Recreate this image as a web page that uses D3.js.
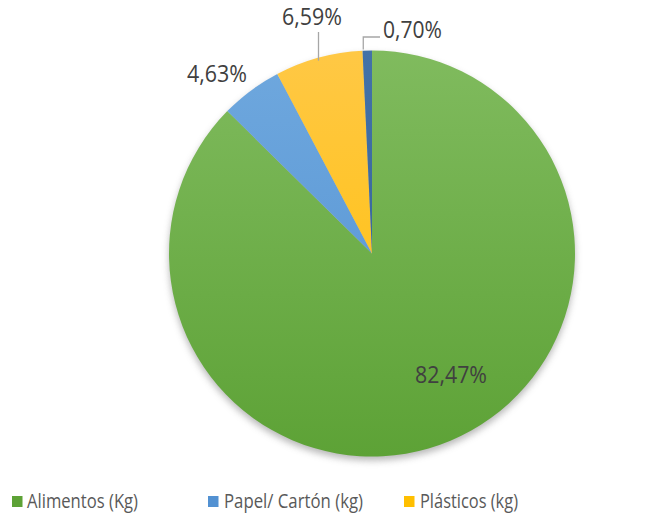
<!DOCTYPE html>
<html>
<head>
<meta charset="utf-8">
<script src="https://cdn.jsdelivr.net/npm/d3@7/dist/d3.min.js"></script>
<style>
  html, body { margin: 0; padding: 0; background: #fff; }
  svg { display: block; font-family: "Open Sans", "Liberation Sans", sans-serif; }
</style>
</head>
<body>
<svg id="chart" width="659" height="517"></svg>
<script>
// Waste composition by category
const categories = ["Alimentos (Kg)", "Papel/ Cartón (kg)", "Plásticos (kg)", "Otros (kg)"];
const values = [82.47, 4.63, 6.59, 0.70];
const valueLabels = ["82,47%", "4,63%", "6,59%", "0,70%"];
const legendCategories = ["Alimentos (Kg)", "Papel/ Cartón (kg)", "Plásticos (kg)"];

const colorsTop = ["#80bb5e", "#6fa8de", "#ffc845", "#4472a8"];
const colorsBottom = ["#5da236", "#5291d2", "#ffbf00", "#2f5f93"];

const cx = 372, cy = 253.5, R = 203;

const svg = d3.select("#chart");
const defs = svg.append("defs");

// soft drop shadow under the pie
const f = defs.append("filter").attr("id", "shadow")
  .attr("x", "-20%").attr("y", "-20%").attr("width", "140%").attr("height", "140%");
f.append("feGaussianBlur").attr("stdDeviation", 3.5);

categories.forEach((c, i) => {
  const g = defs.append("linearGradient").attr("id", "grad" + i)
    .attr("gradientUnits", "userSpaceOnUse")
    .attr("x1", 0).attr("y1", -R).attr("x2", 0).attr("y2", R);
  g.append("stop").attr("offset", "0%").attr("stop-color", colorsTop[i]);
  g.append("stop").attr("offset", "100%").attr("stop-color", colorsBottom[i]);
});

const color = d3.scaleOrdinal().domain(categories).range(categories.map((c, i) => `url(#grad${i})`));

const pie = d3.pie().sort(null).value(d => d.value);
const data = categories.map((c, i) => ({ name: c, value: values[i], label: valueLabels[i] }));
const arcs = pie(data);
const arc = d3.arc().innerRadius(0).outerRadius(R);

const g = svg.append("g").attr("transform", `translate(${cx},${cy})`);

g.append("circle").attr("cx", 0).attr("cy", 4).attr("r", R)
  .attr("fill", "#9a9a9a").attr("opacity", 0.7).attr("filter", "url(#shadow)");

g.selectAll("path.slice").data(arcs).join("path")
  .attr("class", "slice")
  .attr("d", arc)
  .attr("fill", d => color(d.data.name));

// data label placement (baseline) and rendered width
const labelPos = {
  "Alimentos (Kg)": { x: 415, y: 383, w: 72 },
  "Papel/ Cartón (kg)": { x: 187, y: 82, w: 60 },
  "Plásticos (kg)": { x: 282, y: 25, w: 60 },
  "Otros (kg)": { x: 383, y: 38, w: 59 }
};

// leader lines for the small top slices
const leader = svg.append("g").attr("stroke", "#a6a6a6").attr("stroke-width", 1.3).attr("fill", "none");
const arcOuter = d3.arc().innerRadius(R).outerRadius(R);
const pPl = arcOuter.centroid(arcs[2]);
leader.append("path").attr("d", d3.line()([[318.5, 32], [318.5, cy + pPl[1] + 3]]));
const pOt = arcOuter.centroid(arcs[3]);
leader.append("path").attr("d", d3.line()([[cx + pOt[0] - 4, cy + pOt[1] - 1], [cx + pOt[0] - 4, 37], [380, 37]]));

svg.append("g").selectAll("text").data(arcs).join("text")
  .attr("x", d => labelPos[d.data.name].x)
  .attr("y", d => labelPos[d.data.name].y)
  .attr("textLength", d => labelPos[d.data.name].w)
  .attr("lengthAdjust", "spacingAndGlyphs")
  .attr("font-size", 23.5)
  .attr("fill", "#404040")
  .text(d => d.data.label);

// legend
const legendX = [12, 208, 404];
const legendW = [111, 139, 98];
const lg = svg.append("g");
legendCategories.forEach((c, i) => {
  const idx = categories.indexOf(c);
  const item = lg.append("g").attr("transform", `translate(${legendX[i]},496)`);
  item.append("rect").attr("width", 10.5).attr("height", 11).attr("fill", colorsBottom[idx]);
  item.append("text").attr("x", legendX[i] === 12 ? 15 : 16).attr("y", 11.5)
    .attr("textLength", legendW[i]).attr("lengthAdjust", "spacingAndGlyphs")
    .attr("font-size", 19.5).attr("fill", "#595959").text(c);
});
</script>
</body>
</html>
